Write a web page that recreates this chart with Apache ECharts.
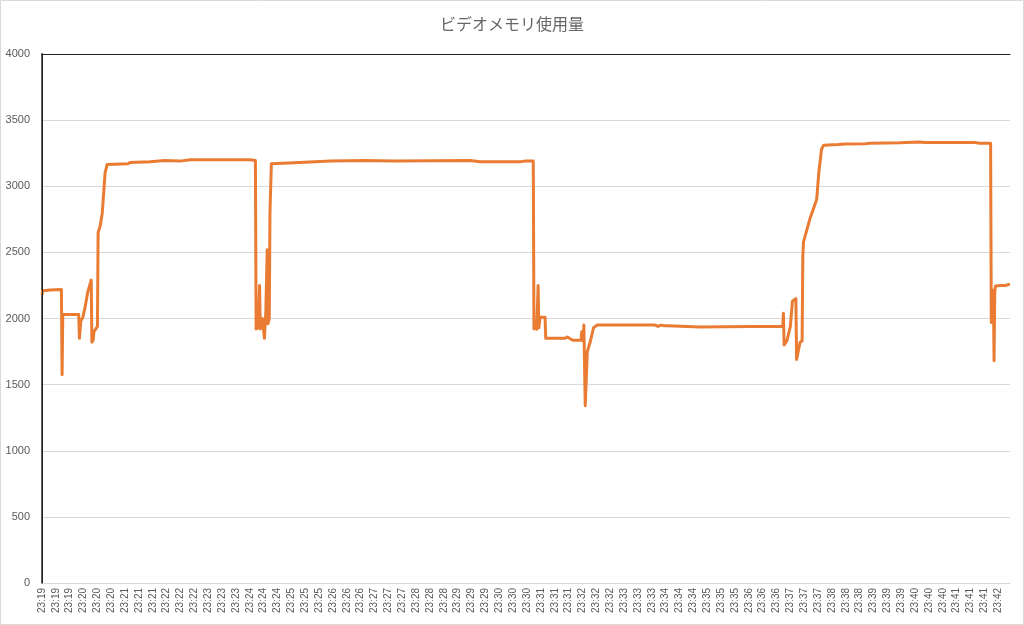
<!DOCTYPE html>
<html>
<head>
<meta charset="utf-8">
<script src="https://cdn.jsdelivr.net/npm/echarts@6/dist/echarts.min.js"></script>
<style>html,body{margin:0;padding:0;background:#fff;}#c{width:1024px;height:625px;}</style>
</head>
<body>
<div id="c"></div>
<script>
// elapsed seconds from start of recording
const times = [
  0,1,12,28,29,30,53,54,56,59,
  62,66,71,72,74,75,80,81,84,87,
  89,91,94,124,127,156,177,199,214,300,
  308,309,312,314,315,318,319,321,323,325,
  326,328,329,331,372,416,466,509,618,632,
  690,697,709,710,712,714,716,717,719,726,
  727,748,755,758,766,778,779,781,782,784,
  786,787,791,796,801,885,889,893,898,903,
  950,1022,1069,1070,1071,1075,1080,1083,1088,1089,
  1091,1094,1097,1098,1099,1108,1118,1121,1125,1128,
  1149,1159,1188,1195,1238,1267,1274,1346,1353,1369,
  1370,1371,1372,1373,1374,1375,1376,1383,1390,1397
];
// video memory usage (MB)
const values = [
  2180,2210,2215,2220,1575,2030,2030,1850,1980,2010,
  2080,2200,2290,1820,1840,1900,1940,2650,2700,2800,
  2950,3100,3165,3170,3180,3185,3195,3190,3200,3200,
  3195,1920,1930,2250,1920,2000,1950,1850,2050,2520,
  1960,2000,2800,3170,3180,3190,3195,3190,3195,3185,
  3185,3190,3190,1920,1940,1920,2250,1930,2010,2010,
  1850,1850,1850,1860,1835,1835,1900,1830,1950,1340,
  1330,1750,1820,1930,1950,1950,1940,1950,1945,1945,
  1935,1940,1940,2040,1800,1830,1940,2130,2150,1690,
  1700,1820,1830,2470,2580,2750,2900,3100,3280,3310,
  3315,3320,3322,3325,3328,3335,3330,3330,3326,3325,
  1970,2220,1970,2200,1680,2200,2245,2250,2250,2260
];
// x tick labels, one per 20 seconds
const tickLabels = [
  '23:19','23:19','23:19','23:20','23:20','23:20','23:21','23:21','23:21',
  '23:22','23:22','23:22','23:23','23:23','23:23','23:24','23:24','23:24',
  '23:25','23:25','23:25','23:26','23:26','23:26','23:27','23:27','23:27',
  '23:28','23:28','23:28','23:29','23:29','23:29','23:30','23:30','23:30',
  '23:31','23:31','23:31','23:32','23:32','23:32','23:33','23:33','23:33',
  '23:34','23:34','23:34','23:35','23:35','23:35','23:36','23:36','23:36',
  '23:37','23:37','23:37','23:38','23:38','23:38','23:39','23:39','23:39',
  '23:40','23:40','23:40','23:41','23:41','23:41','23:42'
];
const title = 'ビデオメモリ使用量';

const data = times.map((t, i) => [t, values[i]]);
const chart = echarts.init(document.getElementById('c'), null, {renderer: 'canvas'});
const txt = '#595959';
chart.setOption({
  animation: false,
  backgroundColor: '#fff',
  title: {
    text: title, left: 'center', top: 11,
    textStyle: {fontFamily: 'Noto Sans CJK JP', fontSize: 16, fontWeight: 'normal', color: '#666'}
  },
  grid: {left: 42, right: 14, top: 54, bottom: 42, containLabel: false},
  xAxis: [{
    type: 'value', min: 0, max: 1397, interval: 20,
    axisLine: {show: true, onZero: false, lineStyle: {color: '#d9d9d9', width: 1}},
    axisTick: {show: false},
    splitLine: {show: false},
    axisLabel: {
      rotate: 90, fontSize: 10, color: txt, fontFamily: 'Liberation Sans', margin: 5,
      showMaxLabel: false,
      formatter: v => { const k = Math.round(v / 20); return (v % 20 === 0 && k < tickLabels.length) ? tickLabels[k] : ''; }
    }
  }, {
    type: 'value', position: 'top', min: 0, max: 1397, z: 10,
    axisLine: {show: true, onZero: false, lineStyle: {color: '#222', width: 1}},
    axisTick: {show: false}, axisLabel: {show: false}, splitLine: {show: false}
  }],
  yAxis: [{
    type: 'value', min: 0, max: 4000, interval: 500,
    axisLine: {show: true, lineStyle: {color: '#606060', width: 2}},
    axisTick: {show: false},
    splitLine: {show: true, lineStyle: {color: '#d9d9d9', width: 1}},
    axisLabel: {fontSize: 11, color: txt, fontFamily: 'Liberation Sans', margin: 12, formatter: v => String(v)}
  }, {
    type: 'value', position: 'right', min: 0, max: 4000, interval: 500, z: 10,
    axisLine: {show: true, lineStyle: {color: '#222', width: 1}},
    axisTick: {show: false}, axisLabel: {show: false}, splitLine: {show: false}
  }],
  graphic: [{
    type: 'rect', shape: {x: 0.5, y: 0.5, width: 1023, height: 624},
    style: {fill: 'none', stroke: '#d9d9d9', lineWidth: 1}, silent: true
  }],
  series: [{
    type: 'line', data: data, showSymbol: false, smooth: false,
    lineStyle: {color: '#E97C32', width: 3, join: 'round'},
    itemStyle: {color: '#E97C32'}
  }]
});
</script>
</body>
</html>
